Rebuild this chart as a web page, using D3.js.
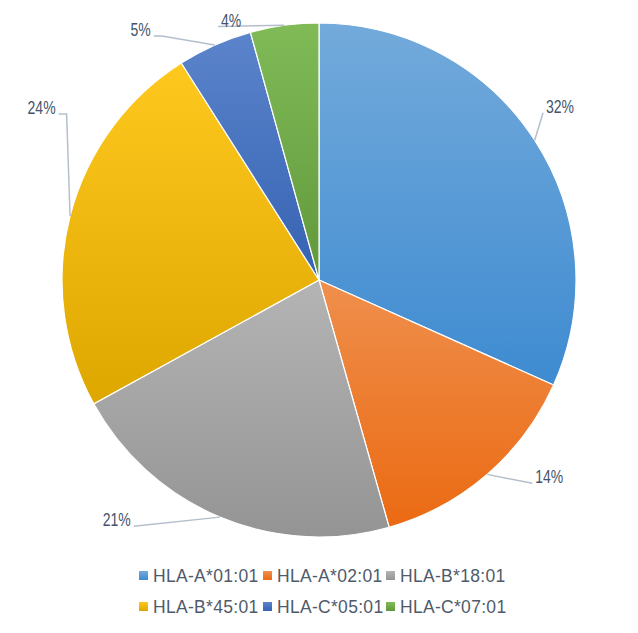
<!DOCTYPE html>
<html><head><meta charset="utf-8">
<script src="https://cdn.jsdelivr.net/npm/d3@7"></script>
<style>html,body{margin:0;padding:0;background:#fff;}svg{display:block;}</style>
</head><body>
<svg id="chart" width="638" height="633"></svg>
<script>
const categories = ["HLA-A*01:01","HLA-A*02:01","HLA-B*18:01","HLA-B*45:01","HLA-C*05:01","HLA-C*07:01"];
const values = [31.7, 13.9, 21.4, 24.0, 4.7, 4.3];
const colors = ["#5B9BD5","#ED7D31","#A5A5A5","#FFC000","#4472C4","#70AD47"];
// label placement (angle in degrees clockwise from top, radius factor, attach side, elbow)
const labelLayout = [
  {angle:54.3, r:1.155, side:"left", elbow:false},
  {angle:130.6, r:1.18, side:"left", elbow:false},
  {angle:220.1, r:1.222, side:"right", elbow:false},
  {angle:301.8, r:1.27, side:"right", elbow:true},
  {angle:324.5, r:1.195, side:"right", elbow:true},
  {angle:341.3, r:1.066, side:"left", elbow:false}
];

const svg = d3.select("#chart");
const cx = 319, cy = 280, R = 257;
const total = d3.sum(values);
const fmt = d3.format(".0%");

const defs = svg.append("defs");
colors.forEach((c,i)=>{
  const g = defs.append("linearGradient").attr("id","grad"+i)
    .attr("x1",0).attr("y1",0).attr("x2",0).attr("y2",1);
  const top = d3.hsl(c); top.l = Math.min(1, top.l + 0.06);
  const bot = d3.hsl(c); bot.l = Math.max(0, bot.l - 0.065); if (bot.s > 0) bot.s = Math.min(1, bot.s + 0.02);
  g.append("stop").attr("offset","0%").attr("stop-color", top.formatHex());
  g.append("stop").attr("offset","100%").attr("stop-color", bot.formatHex());
});

const pie = d3.pie().sort(null).value(d=>d);
const arcs = pie(values);
const arc = d3.arc().innerRadius(0).outerRadius(R);

const g = svg.append("g").attr("transform",`translate(${cx},${cy})`);
g.selectAll("path.slice").data(arcs).join("path")
  .attr("class","slice")
  .attr("d",arc)
  .attr("fill",(d,i)=>`url(#grad${i})`)
  .attr("stroke","#ffffff").attr("stroke-width",1.2);

// labels
const labelG = svg.append("g");
arcs.forEach((d,i)=>{
  const L = labelLayout[i];
  const a = L.angle*Math.PI/180;
  const lx = cx + R*L.r*Math.sin(a), ly = cy - R*L.r*Math.cos(a);
  const t = labelG.append("text")
    .attr("x",lx).attr("y",ly)
    .attr("text-anchor","middle").attr("dominant-baseline","central")
    .attr("font-family","'Liberation Sans',Arial,sans-serif")
    .attr("font-size",17.5).attr("fill","#44546A")
    .text(fmt(values[i]/total));
  const w0 = t.node().getComputedTextLength();
  const w = w0*0.8;
  t.attr("textLength", w).attr("lengthAdjust","spacingAndGlyphs");
  const mid = (d.startAngle + d.endAngle)/2;
  const px = cx + R*Math.sin(mid), py = cy - R*Math.cos(mid);
  const ax = L.side==="left" ? lx - w/2 - 3 : lx + w/2 + 3;
  const ay = ly + 6;
  const pts = [[ax,ay]];
  if (L.elbow) {
    const ex = L.side==="right" ? Math.min(ax+8, px) : Math.max(ax-8, px);
    pts.push([ex, ay]);
  }
  pts.push([px,py]);
  labelG.insert("path","text").attr("d", d3.line()(pts))
    .attr("fill","none").attr("stroke","#B4BFCC").attr("stroke-width",1.5);
});

// legend
const legend = svg.append("g");
const colX = [139, 263, 386];
const rowY = [576, 607];
categories.forEach((c,i)=>{
  const col = i%3, row = Math.floor(i/3);
  const item = legend.append("g").attr("transform",`translate(${colX[col]},${rowY[row]})`);
  item.append("rect").attr("x",0).attr("y",-5).attr("width",9).attr("height",9)
    .attr("fill", `url(#grad${i})`);
  item.append("text").attr("x",14).attr("y",0).attr("dominant-baseline","central")
    .attr("font-family","'Liberation Sans',Arial,sans-serif").attr("font-size",17.5)
    .attr("letter-spacing",0.3)
    .attr("fill","#4F5A6B").text(c);
});
</script>
</body></html>
